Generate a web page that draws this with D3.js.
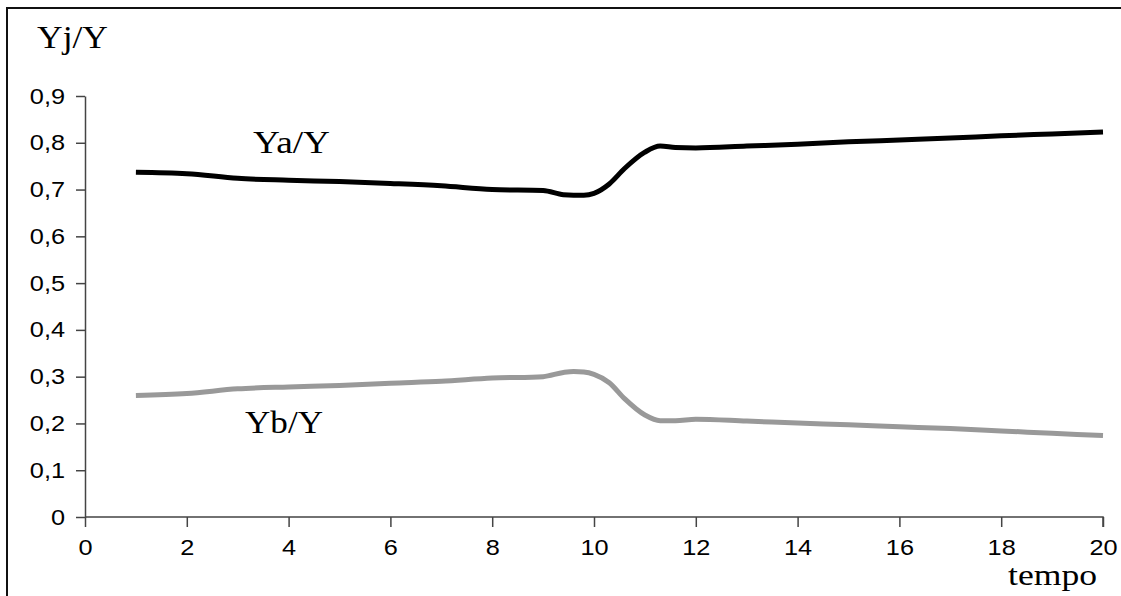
<!DOCTYPE html>
<html>
<head>
<meta charset="utf-8">
<script src="https://cdn.jsdelivr.net/npm/d3@7"></script>
<style>
  html, body { margin: 0; padding: 0; background: #fff; overflow: hidden; }
  svg { display: block; }
</style>
</head>
<body>
<svg id="chart" width="1121" height="596"></svg>
<script>
// ---- data ----
const tempo = [1, 2, 3, 4, 5, 6, 7, 8, 9, 9.4, 9.6, 9.8, 10, 10.3, 10.6, 11, 11.3, 11.6, 12, 13, 14, 15, 16, 17, 18, 19, 20];
const yaShare = [0.737, 0.734, 0.724, 0.720, 0.717, 0.713, 0.708, 0.700, 0.698, 0.689, 0.688, 0.688, 0.692, 0.712, 0.745, 0.780, 0.793, 0.790, 0.789, 0.793, 0.797, 0.802, 0.806, 0.810, 0.815, 0.819, 0.823];
const ybShare = [0.260, 0.264, 0.274, 0.278, 0.281, 0.286, 0.290, 0.297, 0.300, 0.309, 0.311, 0.310, 0.305, 0.287, 0.253, 0.218, 0.206, 0.206, 0.209, 0.205, 0.201, 0.197, 0.193, 0.189, 0.184, 0.179, 0.174];
const xTicks = [0, 2, 4, 6, 8, 10, 12, 14, 16, 18, 20];
const yTicks = [0, 0.1, 0.2, 0.3, 0.4, 0.5, 0.6, 0.7, 0.8, 0.9];
const seriesNames = ["Ya/Y", "Yb/Y"];
const yTitle = "Yj/Y";
const xTitle = "tempo";

// ---- layout ----
const svg = d3.select("#chart");
const x = d3.scaleLinear().domain([0, 20]).range([85, 1103]);
const y = d3.scaleLinear().domain([0, 0.9]).range([517, 96]);
const fmt = d => d === 0 ? "0" : d3.format(".1f")(d).replace(".", ",");

// border (left and top visible; extends past right and bottom edge)
svg.append("path")
  .attr("d", "M7,620V8H1140")
  .attr("fill", "none").attr("stroke", "#111").attr("stroke-width", 2);

// axes
const xAxis = svg.append("g").attr("transform", `translate(0,${y(0)})`)
  .call(d3.axisBottom(x).tickValues(xTicks).tickFormat(d3.format("d")).tickSize(10).tickSizeOuter(10).tickPadding(12));
const yAxis = svg.append("g").attr("transform", `translate(${x(0)},0)`)
  .call(d3.axisLeft(y).tickValues(yTicks).tickFormat(fmt).tickSize(9).tickSizeOuter(0).tickPadding(11));

[xAxis, yAxis].forEach(g => {
  g.attr("font-size", null).attr("font-family", null);
  g.select(".domain").attr("stroke", "#444").attr("stroke-width", 1.5);
  g.selectAll(".tick line").attr("stroke", "#444").attr("stroke-width", 1.5);
  g.selectAll(".tick text")
    .attr("fill", "#000")
    .attr("font-family", "'Liberation Sans', Arial, sans-serif")
    .attr("font-size", 22)
    .each(function () {
      const w = this.getComputedTextLength();
      d3.select(this).attr("textLength", w * 1.15).attr("lengthAdjust", "spacingAndGlyphs");
    });
});
xAxis.select(".domain").attr("d", `M${x(0)},0H${x(20)}V10`);
xAxis.selectAll(".tick text").attr("dy", "0.71em");

// lines
const makeLine = vals => d3.line()
  .x((d, i) => x(tempo[i]))
  .y(d => y(d))
  .curve(d3.curveMonotoneX)(vals);

svg.append("path").attr("d", makeLine(ybShare))
  .attr("fill", "none").attr("stroke", "#999").attr("stroke-width", 5);
svg.append("path").attr("d", makeLine(yaShare))
  .attr("fill", "none").attr("stroke", "#000").attr("stroke-width", 5);

// text labels
const serif = "'Liberation Serif', 'Times New Roman', serif";
function label(txt, px, py, w, size) {
  svg.append("text").attr("x", px).attr("y", py)
    .attr("textLength", w).attr("lengthAdjust", "spacingAndGlyphs")
    .attr("font-family", serif).attr("font-size", size)
    .attr("fill", "#000").text(txt);
}
label(yTitle, 37, 48, 71, 31);
label(seriesNames[0], 253, 153, 77, 32);
label(seriesNames[1], 245, 433, 78, 32);
label(xTitle, 1008, 585, 89, 30);
</script>
</body>
</html>
